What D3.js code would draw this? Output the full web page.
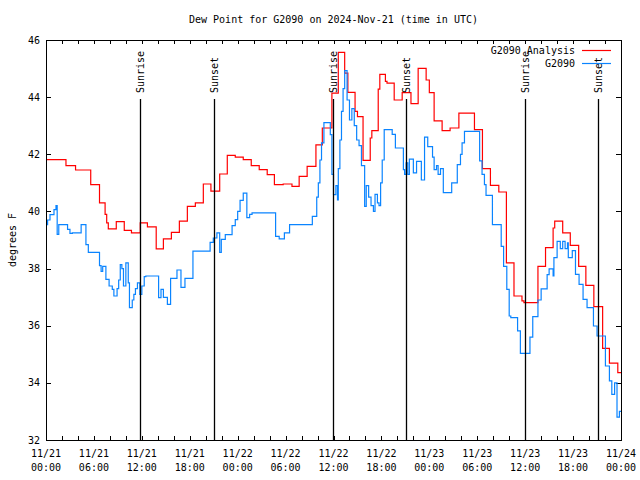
<!DOCTYPE html>
<html><head><meta charset="utf-8">
<script src="https://cdn.jsdelivr.net/npm/d3@7/dist/d3.min.js"></script>
<style>body{margin:0;background:#fff}svg{display:block}</style>
</head><body>
<svg id="c" width="640" height="480"></svg>
<script>
// ---- data (hours since 2024-11-21 00:00 UTC) ----
const analysisHours = [0,2.5,3.7,5.6,6.7,7.4,7.6,7.8,8.8,9.8,10.7,11.8,12.7,13.8,14.7,15.7,16.7,17.7,18.7,19.7,20.65,21.75,22.7,23.7,24.7,25.7,26.7,27.7,28.6,29.7,30.8,31.7,32.7,33.8,34.6,35.8,36.6,37.4,37.8,38.7,39.0,39.7,40.6,40.8,41.6,41.8,42.5,42.7,43.6,44.6,45.7,46.6,47.6,48.0,48.6,49.6,50.6,51.7,53.65,54.65,55.65,56.7,57.65,58.6,59.6,59.85,61.6,62.55,63.5,63.7,64.7,65.65,66.7,67.6,68.6,69.7,70.55,71.6,72];
const analysisValues = [41.81,41.6,41.45,40.94,40.3,39.9,39.6,39.39,39.64,39.34,39.25,39.6,39.46,38.69,39.04,39.27,39.66,40.18,40.3,40.96,40.71,41.31,41.96,41.9,41.81,41.6,41.46,41.29,40.94,40.96,40.88,41.23,41.58,42.33,42.92,44.14,45.57,44.84,44.17,43.5,43.32,41.79,42.57,42.83,44.28,44.8,44.55,44.49,43.9,44.16,43.77,45.01,44.6,44.16,43.17,42.83,42.92,43.44,42.86,41.5,40.91,40.68,38.2,37.04,36.87,36.81,38.08,38.73,39.42,39.66,39.25,38.81,38.08,37.41,36.67,35.21,34.69,34.36,34.36];
const obsHours = [0,0.2,0.5,1.0,1.25,1.4,1.6,2.7,3.0,3.3,4.4,5.0,5.3,6.7,6.9,7.1,7.5,7.9,8.3,8.5,8.9,9.1,9.3,9.5,9.7,10.0,10.3,10.45,10.8,11.0,11.2,11.45,11.75,12.0,12.3,12.5,14.1,14.4,14.7,15.2,15.6,16.4,16.9,17.4,18.4,20.55,20.95,21.4,21.75,21.95,22.45,23.3,23.7,24.0,24.3,24.7,25.15,25.5,25.8,28.75,29.2,29.85,30.5,33.35,33.9,34.1,34.3,34.5,34.8,35.6,35.8,36.0,36.3,36.5,36.6,36.8,37.0,37.2,37.4,37.7,38.0,38.3,38.6,38.9,39.2,39.5,39.9,40.1,40.4,40.7,41.0,41.2,41.5,41.7,41.9,42.1,42.35,43.35,43.75,44.75,44.9,45.1,45.3,45.5,46.0,46.4,47.0,47.4,47.8,48.4,48.6,48.9,49.1,49.4,49.75,50.8,51.5,51.9,52.1,52.4,54.3,54.6,54.9,55.1,55.9,57.0,57.3,57.7,58.0,58.2,59.05,59.4,60.6,60.95,61.6,62.0,62.75,63.0,63.5,63.6,64.0,64.4,64.7,65.0,65.3,65.4,65.9,66.3,66.75,67.25,67.75,68.55,69.0,70.05,70.55,70.85,71.2,71.5,71.8,72];
const obsValues = [39.54,39.7,39.89,40.06,40.2,39.2,39.54,39.37,39.23,39.25,39.54,38.84,38.57,38.1,37.9,38.08,37.62,37.39,37.27,37.04,37.3,37.6,38.14,38.0,37.39,38.2,37.5,36.63,36.9,37.1,37.3,37.5,37.1,37.39,37.72,37.74,36.98,37.27,36.99,36.75,37.66,37.95,37.34,37.66,38.61,38.92,39.07,39.25,38.57,39.02,39.19,39.5,39.71,40.0,40.39,40.64,39.78,39.9,39.95,39.13,39.04,39.25,39.54,39.83,40.5,41.0,41.8,42.4,43.11,42.69,41.3,40.59,40.9,40.4,41.5,42.5,43.5,44.3,44.93,43.9,43.2,43.6,43.0,42.5,42.3,41.6,40.18,40.9,40.5,40.2,40.0,40.6,40.3,40.2,41.0,41.8,42.86,42.7,42.22,41.46,41.3,41.7,41.3,41.83,41.35,41.75,41.1,42.6,42.27,41.9,41.46,41.6,41.3,41.5,40.66,41.0,41.64,42.0,42.4,42.8,41.77,41.3,40.94,40.56,39.54,38.78,38.08,37.27,36.34,36.28,35.82,35.03,35.6,36.32,36.9,37.29,37.79,37.99,37.74,38.38,38.95,38.7,38.95,38.7,38.9,38.38,38.63,37.8,37.45,36.92,36.63,35.99,35.64,34.59,34.07,33.6,34.0,32.8,33.0,33.0];
const sunHours = [11.83, 21.08, 35.9, 45.14, 59.92, 69.07];
const sunLabels = ["Sunrise","Sunset","Sunrise","Sunset","Sunrise","Sunset"];
const xTickHours = [0,6,12,18,24,30,36,42,48,54,60,66,72];
const xTickDates = ["11/21","11/21","11/21","11/21","11/22","11/22","11/22","11/22","11/23","11/23","11/23","11/23","11/24"];
const xTickTimes = ["00:00","06:00","12:00","18:00","00:00","06:00","12:00","18:00","00:00","06:00","12:00","18:00","00:00"];
const yTicks = [32,34,36,38,40,42,44,46];
const seriesNames = ["G2090 Analysis","G2090"];
const seriesColors = ["#ff0000","#0a84ff"];
const titleText = "Dew Point for G2090 on 2024-Nov-21 (time in UTC)";
const yTitle = "degrees F";

// ---- drawing ----
const FONT = "'DejaVu Sans Mono', 'Liberation Mono', monospace";
const svg = d3.select("#c");
const L = 46, R = 621, T = 40, B = 440;
const x = d3.scaleLinear().domain([0,72]).range([L,R]);
const y = d3.scaleLinear().domain([32,46]).range([B,T]);

// minor ticks (every 2h) via axes, inward
const tick2h = d3.range(0,73,2);
const axB = d3.axisBottom(x).tickValues(tick2h).tickSize(-4).tickFormat("");
const axT = d3.axisTop(x).tickValues(tick2h).tickSize(-4).tickFormat("");
const axL = d3.axisLeft(y).tickValues(yTicks).tickSize(-5).tickFormat("");
const axR = d3.axisRight(y).tickValues(yTicks).tickSize(-5).tickFormat("");
[[axB,`translate(0,${B})`],[axT,`translate(0,${T})`],[axL,`translate(${L},0)`],[axR,`translate(${R},0)`]].forEach(([a,t])=>{
  const g = svg.append("g").attr("transform",t).call(a);
  g.select(".domain").remove();
  g.selectAll("line").attr("stroke","#000").attr("shape-rendering","crispEdges");
});

// data lines
const mk = (hs, vs) => hs.map((h,i)=>[h,vs[i]]);
const line = d3.line().x(d=>x(d[0])).y(d=>y(d[1])).curve(d3.curveStepAfter);
svg.append("path").datum(mk(analysisHours,analysisValues))
  .attr("d",line).attr("fill","none").attr("stroke",seriesColors[0]).attr("stroke-width",1.2);
svg.append("path").datum(mk(obsHours,obsValues))
  .attr("d",line).attr("fill","none").attr("stroke",seriesColors[1]).attr("stroke-width",1.2);

// sunrise / sunset
sunHours.forEach((h,i)=>{
  const px = Math.round(x(h)) + 0.5;
  svg.append("line").attr("x1",px).attr("x2",px).attr("y1",99).attr("y2",B)
    .attr("stroke","#000").attr("stroke-width",1.3);
  svg.append("text").attr("transform",`translate(${px},93) rotate(-90)`)
    .attr("dominant-baseline","middle").attr("text-anchor","start")
    .attr("font-family",FONT).attr("font-size",10).text(sunLabels[i]);
});

// border
svg.append("rect").attr("x",L+0.5).attr("y",T+0.5).attr("width",R-L).attr("height",B-T)
  .attr("fill","none").attr("stroke","#000").attr("stroke-width",1).attr("shape-rendering","crispEdges");

// tick labels
const tf = svg.append("g").attr("font-family",FONT).attr("font-size",10).attr("fill","#000");
xTickHours.forEach((h,i)=>{
  tf.append("text").attr("x",x(h)).attr("y",457).attr("text-anchor","middle").text(xTickDates[i]);
  tf.append("text").attr("x",x(h)).attr("y",471).attr("text-anchor","middle").text(xTickTimes[i]);
});
yTicks.forEach(v=>{
  tf.append("text").attr("x",40).attr("y",y(v)).attr("dy","0.35em").attr("text-anchor","end").text(v);
});

// title & axis title
tf.append("text").attr("x",(L+R)/2).attr("y",23).attr("text-anchor","middle").text(titleText);
tf.append("text").attr("transform",`translate(13,${(T+B)/2}) rotate(-90)`)
  .attr("text-anchor","middle").attr("dominant-baseline","middle").text(yTitle);

// legend
seriesNames.forEach((n,i)=>{
  const ly = 50 + i*13;
  tf.append("text").attr("x",575).attr("y",ly).attr("dy","0.35em").attr("text-anchor","end").text(n);
  svg.append("line").attr("x1",582).attr("x2",611).attr("y1",ly+0.5).attr("y2",ly+0.5)
    .attr("stroke",seriesColors[i]).attr("stroke-width",1.2);
});
</script>
</body></html>
